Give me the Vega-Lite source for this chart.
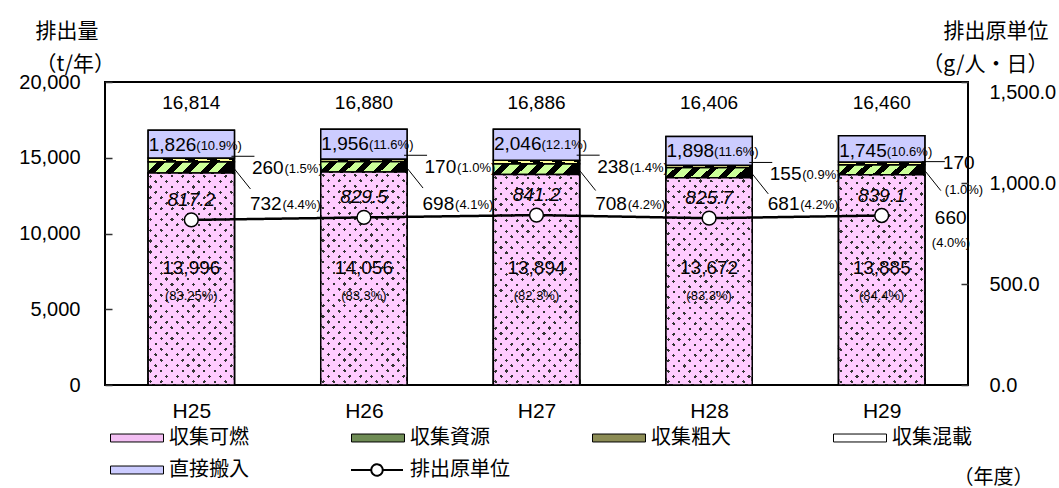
{
  "$schema": "https://vega.github.io/schema/vega-lite/v6.json",
  "width": 863,
  "height": 303,
  "autosize": {"type": "none"},
  "padding": {"left": 105, "top": 82, "right": 91, "bottom": 103},
  "background": "white",
  "config": {
    "view": {"stroke": "black", "strokeWidth": 2},
    "text": {"font": "Liberation Sans", "fontSize": 19, "color": "black", "baseline": "middle"},
    "axis": {"domain": false, "grid": false, "labelColor": "black", "titleColor": "black", "labelFontWeight": "normal"}
  },
  "datasets": {
    "seg": [
      {"year": "H25", "cat": "収集可燃", "value": 13996},
      {"year": "H25", "cat": "収集資源", "value": 732},
      {"year": "H25", "cat": "収集粗大", "value": 260},
      {"year": "H25", "cat": "収集混載", "value": 0},
      {"year": "H25", "cat": "直接搬入", "value": 1826},
      {"year": "H26", "cat": "収集可燃", "value": 14056},
      {"year": "H26", "cat": "収集資源", "value": 698},
      {"year": "H26", "cat": "収集粗大", "value": 170},
      {"year": "H26", "cat": "収集混載", "value": 0},
      {"year": "H26", "cat": "直接搬入", "value": 1956},
      {"year": "H27", "cat": "収集可燃", "value": 13894},
      {"year": "H27", "cat": "収集資源", "value": 708},
      {"year": "H27", "cat": "収集粗大", "value": 238},
      {"year": "H27", "cat": "収集混載", "value": 0},
      {"year": "H27", "cat": "直接搬入", "value": 2046},
      {"year": "H28", "cat": "収集可燃", "value": 13672},
      {"year": "H28", "cat": "収集資源", "value": 681},
      {"year": "H28", "cat": "収集粗大", "value": 155},
      {"year": "H28", "cat": "収集混載", "value": 0},
      {"year": "H28", "cat": "直接搬入", "value": 1898},
      {"year": "H29", "cat": "収集可燃", "value": 13885},
      {"year": "H29", "cat": "収集資源", "value": 660},
      {"year": "H29", "cat": "収集粗大", "value": 170},
      {"year": "H29", "cat": "収集混載", "value": 0},
      {"year": "H29", "cat": "直接搬入", "value": 1745}
    ],
    "years": [
      {"year": "H25", "kanen": 13996, "shigen": 732, "sodai": 260, "choku": 1826, "total": 16814, "rate": 817.2, "p_kanen": "(83.25%)", "p_shigen": "(4.4%)", "p_sodai": "(1.5%)", "p_choku": "(10.9%)"},
      {"year": "H26", "kanen": 14056, "shigen": 698, "sodai": 170, "choku": 1956, "total": 16880, "rate": 829.5, "p_kanen": "(83.3%)", "p_shigen": "(4.1%)", "p_sodai": "(1.0%)", "p_choku": "(11.6%)"},
      {"year": "H27", "kanen": 13894, "shigen": 708, "sodai": 238, "choku": 2046, "total": 16886, "rate": 841.2, "p_kanen": "(82.3%)", "p_shigen": "(4.2%)", "p_sodai": "(1.4%)", "p_choku": "(12.1%)"},
      {"year": "H28", "kanen": 13672, "shigen": 681, "sodai": 155, "choku": 1898, "total": 16406, "rate": 825.7, "p_kanen": "(83.3%)", "p_shigen": "(4.2%)", "p_sodai": "(0.9%)", "p_choku": "(11.6%)"},
      {"year": "H29", "kanen": 13885, "shigen": 660, "sodai": 170, "choku": 1745, "total": 16460, "rate": 839.1, "p_kanen": "(84.4%)", "p_shigen": "(4.0%)", "p_sodai": "(1.0%)", "p_choku": "(10.6%)"}
    ]
  },
  "resolve": {"scale": {"y": "independent"}},
  "layer": [
    {
      "data": {"name": "seg"},
      "mark": {"type": "bar", "stroke": "black", "strokeWidth": 1.5},
      "encoding": {
        "x": {
          "field": "year", "type": "nominal",
          "scale": {"paddingInner": 0.5, "paddingOuter": 0.25},
          "axis": {
            "title": "（年度）", "labelAngle": 0, "labelFont": "Liberation Sans", "labelFontSize": 21,
            "labelFontWeight": "normal", "offset": -6,
            "labelBaseline": "middle", "labelPadding": 26, "tickBand": "extent", "tickSize": 6,
            "tickColor": "#555555", "tickWidth": 1,
            "titleFont": "Noto Sans CJK JP", "titleFontSize": 20, "titleFontWeight": "normal",
            "titleX": 928, "titleY": 98, "titleAlign": "right", "titleBaseline": "middle"
          }
        },
        "y": {
          "field": "value", "type": "quantitative", "stack": "zero",
          "scale": {"domain": [0, 20000]},
          "axis": {
            "orient": "left", "values": [0, 5000, 10000, 15000, 20000], "format": ",.0f",
            "offset": -7, "tickSize": 7, "tickColor": "#333333", "tickWidth": 1.5,
            "labelFont": "Liberation Sans", "labelFontSize": 20, "labelPadding": 25,
            "title": ["排出量", "（t/年）"], "titleFont": "Noto Sans CJK JP", "titleFontSize": 21,
            "titleFontWeight": "normal", "titleAngle": 0, "titleAlign": "left", "titleBaseline": "top",
            "titleX": -77, "titleY": -62, "titleLineHeight": 33
          }
        },
        "color": {
          "field": "cat", "type": "nominal",
          "sort": ["収集可燃", "収集資源", "収集粗大", "収集混載", "直接搬入"],
          "scale": {
            "domain": ["収集可燃", "収集資源", "収集粗大", "収集混載", "直接搬入"],
            "range": ["#f3bff3", "#6f8c55", "#8c8c55", "#ffffff", "#ccccff"]
          },
          "legend": {
            "orient": "none", "legendX": 5, "legendY": 346, "direction": "horizontal", "columns": 4,
            "title": null, "padding": 0, "clipHeight": 20,
            "symbolType": "M-1,-0.15H1V0.15H-1Z", "symbolSize": 2809,
            "symbolStrokeColor": "black", "symbolStrokeWidth": 1,
            "labelFont": "Noto Sans CJK JP", "labelFontSize": 20, "labelColor": "black", "labelOffset": 5,
            "labelLimit": 300, "columnPadding": 102, "rowPadding": 12
          }
        }
      }
    },
    {
      "data": {"name": "seg"},
      "mark": {"type": "bar", "stroke": "black", "strokeWidth": 1.5},
      "encoding": {
        "x": {"field": "year", "type": "nominal"},
        "y": {"field": "value", "type": "quantitative", "stack": "zero", "scale": {"domain": [0, 20000]}, "axis": null},
        "color": {
          "field": "cat", "type": "nominal",
          "sort": ["収集可燃", "収集資源", "収集粗大", "収集混載", "直接搬入"],
          "scale": {
            "domain": ["収集可燃", "収集資源", "収集粗大", "収集混載", "直接搬入"],
            "range": ["#f3bff3", "#6f8c55", "#8c8c55", "#ffffff", "#ccccff"]
          },
          "legend": null
        },
        "fill": {
          "condition": [
            {"test": "datum.cat === '収集可燃'", "value": {"gradient": "linear", "x1": 0, "y1": 0, "x2": 0.501, "y2": 1.2234, "stops": [
                {"offset": 0, "color": "#ffccff"},
                {"offset": 0.013, "color": "#ffccff"}, {"offset": 0.013, "color": "#333333"}, {"offset": 0.024, "color": "#333333"}, {"offset": 0.024, "color": "#ffccff"},
                {"offset": 0.0487, "color": "#ffccff"}, {"offset": 0.0487, "color": "#333333"}, {"offset": 0.0597, "color": "#333333"}, {"offset": 0.0597, "color": "#ffccff"},
                {"offset": 0.0844, "color": "#ffccff"}, {"offset": 0.0844, "color": "#333333"}, {"offset": 0.0954, "color": "#333333"}, {"offset": 0.0954, "color": "#ffccff"},
                {"offset": 0.1201, "color": "#ffccff"}, {"offset": 0.1201, "color": "#333333"}, {"offset": 0.1311, "color": "#333333"}, {"offset": 0.1311, "color": "#ffccff"},
                {"offset": 0.1559, "color": "#ffccff"}, {"offset": 0.1559, "color": "#333333"}, {"offset": 0.1669, "color": "#333333"}, {"offset": 0.1669, "color": "#ffccff"},
                {"offset": 0.1916, "color": "#ffccff"}, {"offset": 0.1916, "color": "#333333"}, {"offset": 0.2026, "color": "#333333"}, {"offset": 0.2026, "color": "#ffccff"},
                {"offset": 0.2273, "color": "#ffccff"}, {"offset": 0.2273, "color": "#333333"}, {"offset": 0.2383, "color": "#333333"}, {"offset": 0.2383, "color": "#ffccff"},
                {"offset": 0.263, "color": "#ffccff"}, {"offset": 0.263, "color": "#333333"}, {"offset": 0.274, "color": "#333333"}, {"offset": 0.274, "color": "#ffccff"},
                {"offset": 0.2987, "color": "#ffccff"}, {"offset": 0.2987, "color": "#333333"}, {"offset": 0.3097, "color": "#333333"}, {"offset": 0.3097, "color": "#ffccff"},
                {"offset": 0.3344, "color": "#ffccff"}, {"offset": 0.3344, "color": "#333333"}, {"offset": 0.3454, "color": "#333333"}, {"offset": 0.3454, "color": "#ffccff"},
                {"offset": 0.3701, "color": "#ffccff"}, {"offset": 0.3701, "color": "#333333"}, {"offset": 0.3811, "color": "#333333"}, {"offset": 0.3811, "color": "#ffccff"},
                {"offset": 0.4059, "color": "#ffccff"}, {"offset": 0.4059, "color": "#333333"}, {"offset": 0.4169, "color": "#333333"}, {"offset": 0.4169, "color": "#ffccff"},
                {"offset": 0.4416, "color": "#ffccff"}, {"offset": 0.4416, "color": "#333333"}, {"offset": 0.4526, "color": "#333333"}, {"offset": 0.4526, "color": "#ffccff"},
                {"offset": 0.4773, "color": "#ffccff"}, {"offset": 0.4773, "color": "#333333"}, {"offset": 0.4883, "color": "#333333"}, {"offset": 0.4883, "color": "#ffccff"},
                {"offset": 0.513, "color": "#ffccff"}, {"offset": 0.513, "color": "#333333"}, {"offset": 0.524, "color": "#333333"}, {"offset": 0.524, "color": "#ffccff"},
                {"offset": 0.5487, "color": "#ffccff"}, {"offset": 0.5487, "color": "#333333"}, {"offset": 0.5597, "color": "#333333"}, {"offset": 0.5597, "color": "#ffccff"},
                {"offset": 0.5844, "color": "#ffccff"}, {"offset": 0.5844, "color": "#333333"}, {"offset": 0.5954, "color": "#333333"}, {"offset": 0.5954, "color": "#ffccff"},
                {"offset": 0.6201, "color": "#ffccff"}, {"offset": 0.6201, "color": "#333333"}, {"offset": 0.6311, "color": "#333333"}, {"offset": 0.6311, "color": "#ffccff"},
                {"offset": 0.6559, "color": "#ffccff"}, {"offset": 0.6559, "color": "#333333"}, {"offset": 0.6669, "color": "#333333"}, {"offset": 0.6669, "color": "#ffccff"},
                {"offset": 0.6916, "color": "#ffccff"}, {"offset": 0.6916, "color": "#333333"}, {"offset": 0.7026, "color": "#333333"}, {"offset": 0.7026, "color": "#ffccff"},
                {"offset": 0.7273, "color": "#ffccff"}, {"offset": 0.7273, "color": "#333333"}, {"offset": 0.7383, "color": "#333333"}, {"offset": 0.7383, "color": "#ffccff"},
                {"offset": 0.763, "color": "#ffccff"}, {"offset": 0.763, "color": "#333333"}, {"offset": 0.774, "color": "#333333"}, {"offset": 0.774, "color": "#ffccff"},
                {"offset": 0.7987, "color": "#ffccff"}, {"offset": 0.7987, "color": "#333333"}, {"offset": 0.8097, "color": "#333333"}, {"offset": 0.8097, "color": "#ffccff"},
                {"offset": 0.8344, "color": "#ffccff"}, {"offset": 0.8344, "color": "#333333"}, {"offset": 0.8454, "color": "#333333"}, {"offset": 0.8454, "color": "#ffccff"},
                {"offset": 0.8701, "color": "#ffccff"}, {"offset": 0.8701, "color": "#333333"}, {"offset": 0.8811, "color": "#333333"}, {"offset": 0.8811, "color": "#ffccff"},
                {"offset": 0.9059, "color": "#ffccff"}, {"offset": 0.9059, "color": "#333333"}, {"offset": 0.9169, "color": "#333333"}, {"offset": 0.9169, "color": "#ffccff"},
                {"offset": 0.9416, "color": "#ffccff"}, {"offset": 0.9416, "color": "#333333"}, {"offset": 0.9526, "color": "#333333"}, {"offset": 0.9526, "color": "#ffccff"},
                {"offset": 0.9773, "color": "#ffccff"}, {"offset": 0.9773, "color": "#333333"}, {"offset": 0.9883, "color": "#333333"}, {"offset": 0.9883, "color": "#ffccff"},
                {"offset": 1, "color": "#ffccff"}
              ]}},
            {"test": "datum.cat === '収集資源'", "value": {"gradient": "linear", "x1": 0, "y1": 0, "x2": 1, "y2": 0.128, "stops": [
                {"offset": 0, "color": "#ccff99"}, {"offset": 0.11, "color": "#ccff99"}, {"offset": 0.11, "color": "#000000"}, {"offset": 0.2, "color": "#000000"},
                {"offset": 0.2, "color": "#ccff99"}, {"offset": 0.31, "color": "#ccff99"}, {"offset": 0.31, "color": "#000000"}, {"offset": 0.4, "color": "#000000"},
                {"offset": 0.4, "color": "#ccff99"}, {"offset": 0.51, "color": "#ccff99"}, {"offset": 0.51, "color": "#000000"}, {"offset": 0.6, "color": "#000000"},
                {"offset": 0.6, "color": "#ccff99"}, {"offset": 0.71, "color": "#ccff99"}, {"offset": 0.71, "color": "#000000"}, {"offset": 0.8, "color": "#000000"},
                {"offset": 0.8, "color": "#ccff99"}, {"offset": 0.91, "color": "#ccff99"}, {"offset": 0.91, "color": "#000000"}, {"offset": 1, "color": "#000000"}
              ]}},
            {"test": "datum.cat === '収集粗大'", "value": {"gradient": "linear", "x1": 0, "y1": 0.128, "x2": 1, "y2": 0, "stops": [
                {"offset": 0, "color": "#ffff99"}, {"offset": 0.14, "color": "#ffff99"}, {"offset": 0.14, "color": "#000000"}, {"offset": 0.25, "color": "#000000"},
                {"offset": 0.25, "color": "#ffff99"}, {"offset": 0.39, "color": "#ffff99"}, {"offset": 0.39, "color": "#000000"}, {"offset": 0.5, "color": "#000000"},
                {"offset": 0.5, "color": "#ffff99"}, {"offset": 0.64, "color": "#ffff99"}, {"offset": 0.64, "color": "#000000"}, {"offset": 0.75, "color": "#000000"},
                {"offset": 0.75, "color": "#ffff99"}, {"offset": 0.89, "color": "#ffff99"}, {"offset": 0.89, "color": "#000000"}, {"offset": 1, "color": "#000000"}
              ]}}
          ],
          "value": "#ccccff"
        }
      }
    },
    {
      "data": {"name": "years"},
      "mark": {
        "type": "bar", "stroke": "black", "strokeWidth": 1.5,
        "fill": {"gradient": "linear", "x1": 0, "y1": 1, "x2": 0.501, "y2": -0.2234, "stops": [
          {"offset": 0, "color": "#ffccff"},
          {"offset": 0.013, "color": "#ffccff"}, {"offset": 0.013, "color": "rgba(255,204,255,0)"}, {"offset": 0.024, "color": "rgba(255,204,255,0)"}, {"offset": 0.024, "color": "#ffccff"},
          {"offset": 0.0487, "color": "#ffccff"}, {"offset": 0.0487, "color": "rgba(255,204,255,0)"}, {"offset": 0.0597, "color": "rgba(255,204,255,0)"}, {"offset": 0.0597, "color": "#ffccff"},
          {"offset": 0.0844, "color": "#ffccff"}, {"offset": 0.0844, "color": "rgba(255,204,255,0)"}, {"offset": 0.0954, "color": "rgba(255,204,255,0)"}, {"offset": 0.0954, "color": "#ffccff"},
          {"offset": 0.1201, "color": "#ffccff"}, {"offset": 0.1201, "color": "rgba(255,204,255,0)"}, {"offset": 0.1311, "color": "rgba(255,204,255,0)"}, {"offset": 0.1311, "color": "#ffccff"},
          {"offset": 0.1559, "color": "#ffccff"}, {"offset": 0.1559, "color": "rgba(255,204,255,0)"}, {"offset": 0.1669, "color": "rgba(255,204,255,0)"}, {"offset": 0.1669, "color": "#ffccff"},
          {"offset": 0.1916, "color": "#ffccff"}, {"offset": 0.1916, "color": "rgba(255,204,255,0)"}, {"offset": 0.2026, "color": "rgba(255,204,255,0)"}, {"offset": 0.2026, "color": "#ffccff"},
          {"offset": 0.2273, "color": "#ffccff"}, {"offset": 0.2273, "color": "rgba(255,204,255,0)"}, {"offset": 0.2383, "color": "rgba(255,204,255,0)"}, {"offset": 0.2383, "color": "#ffccff"},
          {"offset": 0.263, "color": "#ffccff"}, {"offset": 0.263, "color": "rgba(255,204,255,0)"}, {"offset": 0.274, "color": "rgba(255,204,255,0)"}, {"offset": 0.274, "color": "#ffccff"},
          {"offset": 0.2987, "color": "#ffccff"}, {"offset": 0.2987, "color": "rgba(255,204,255,0)"}, {"offset": 0.3097, "color": "rgba(255,204,255,0)"}, {"offset": 0.3097, "color": "#ffccff"},
          {"offset": 0.3344, "color": "#ffccff"}, {"offset": 0.3344, "color": "rgba(255,204,255,0)"}, {"offset": 0.3454, "color": "rgba(255,204,255,0)"}, {"offset": 0.3454, "color": "#ffccff"},
          {"offset": 0.3701, "color": "#ffccff"}, {"offset": 0.3701, "color": "rgba(255,204,255,0)"}, {"offset": 0.3811, "color": "rgba(255,204,255,0)"}, {"offset": 0.3811, "color": "#ffccff"},
          {"offset": 0.4059, "color": "#ffccff"}, {"offset": 0.4059, "color": "rgba(255,204,255,0)"}, {"offset": 0.4169, "color": "rgba(255,204,255,0)"}, {"offset": 0.4169, "color": "#ffccff"},
          {"offset": 0.4416, "color": "#ffccff"}, {"offset": 0.4416, "color": "rgba(255,204,255,0)"}, {"offset": 0.4526, "color": "rgba(255,204,255,0)"}, {"offset": 0.4526, "color": "#ffccff"},
          {"offset": 0.4773, "color": "#ffccff"}, {"offset": 0.4773, "color": "rgba(255,204,255,0)"}, {"offset": 0.4883, "color": "rgba(255,204,255,0)"}, {"offset": 0.4883, "color": "#ffccff"},
          {"offset": 0.513, "color": "#ffccff"}, {"offset": 0.513, "color": "rgba(255,204,255,0)"}, {"offset": 0.524, "color": "rgba(255,204,255,0)"}, {"offset": 0.524, "color": "#ffccff"},
          {"offset": 0.5487, "color": "#ffccff"}, {"offset": 0.5487, "color": "rgba(255,204,255,0)"}, {"offset": 0.5597, "color": "rgba(255,204,255,0)"}, {"offset": 0.5597, "color": "#ffccff"},
          {"offset": 0.5844, "color": "#ffccff"}, {"offset": 0.5844, "color": "rgba(255,204,255,0)"}, {"offset": 0.5954, "color": "rgba(255,204,255,0)"}, {"offset": 0.5954, "color": "#ffccff"},
          {"offset": 0.6201, "color": "#ffccff"}, {"offset": 0.6201, "color": "rgba(255,204,255,0)"}, {"offset": 0.6311, "color": "rgba(255,204,255,0)"}, {"offset": 0.6311, "color": "#ffccff"},
          {"offset": 0.6559, "color": "#ffccff"}, {"offset": 0.6559, "color": "rgba(255,204,255,0)"}, {"offset": 0.6669, "color": "rgba(255,204,255,0)"}, {"offset": 0.6669, "color": "#ffccff"},
          {"offset": 0.6916, "color": "#ffccff"}, {"offset": 0.6916, "color": "rgba(255,204,255,0)"}, {"offset": 0.7026, "color": "rgba(255,204,255,0)"}, {"offset": 0.7026, "color": "#ffccff"},
          {"offset": 0.7273, "color": "#ffccff"}, {"offset": 0.7273, "color": "rgba(255,204,255,0)"}, {"offset": 0.7383, "color": "rgba(255,204,255,0)"}, {"offset": 0.7383, "color": "#ffccff"},
          {"offset": 0.763, "color": "#ffccff"}, {"offset": 0.763, "color": "rgba(255,204,255,0)"}, {"offset": 0.774, "color": "rgba(255,204,255,0)"}, {"offset": 0.774, "color": "#ffccff"},
          {"offset": 0.7987, "color": "#ffccff"}, {"offset": 0.7987, "color": "rgba(255,204,255,0)"}, {"offset": 0.8097, "color": "rgba(255,204,255,0)"}, {"offset": 0.8097, "color": "#ffccff"},
          {"offset": 0.8344, "color": "#ffccff"}, {"offset": 0.8344, "color": "rgba(255,204,255,0)"}, {"offset": 0.8454, "color": "rgba(255,204,255,0)"}, {"offset": 0.8454, "color": "#ffccff"},
          {"offset": 0.8701, "color": "#ffccff"}, {"offset": 0.8701, "color": "rgba(255,204,255,0)"}, {"offset": 0.8811, "color": "rgba(255,204,255,0)"}, {"offset": 0.8811, "color": "#ffccff"},
          {"offset": 0.9059, "color": "#ffccff"}, {"offset": 0.9059, "color": "rgba(255,204,255,0)"}, {"offset": 0.9169, "color": "rgba(255,204,255,0)"}, {"offset": 0.9169, "color": "#ffccff"},
          {"offset": 0.9416, "color": "#ffccff"}, {"offset": 0.9416, "color": "rgba(255,204,255,0)"}, {"offset": 0.9526, "color": "rgba(255,204,255,0)"}, {"offset": 0.9526, "color": "#ffccff"},
          {"offset": 0.9773, "color": "#ffccff"}, {"offset": 0.9773, "color": "rgba(255,204,255,0)"}, {"offset": 0.9883, "color": "rgba(255,204,255,0)"}, {"offset": 0.9883, "color": "#ffccff"},
          {"offset": 1, "color": "#ffccff"}
        ]}
      },
      "encoding": {
        "x": {"field": "year", "type": "nominal"},
        "y": {"field": "kanen", "type": "quantitative", "scale": {"domain": [0, 20000]}, "axis": null}
      }
    },
    {
      "data": {"name": "years"},
      "mark": {"type": "rule", "color": "black", "strokeWidth": 1, "xOffset": -3, "x2Offset": 20, "yOffset": 26},
      "encoding": {
        "x": {"field": "year", "type": "nominal", "bandPosition": 1},
        "x2": {"field": "year", "bandPosition": 1},
        "y": {"field": "total", "type": "quantitative", "scale": {"domain": [0, 20000]}, "axis": null}
      }
    },
    {
      "data": {"name": "years"},
      "mark": {"type": "rule", "color": "black", "strokeWidth": 1, "xOffset": 0, "x2Offset": 16, "yOffset": -4, "y2Offset": 16},
      "encoding": {
        "x": {"field": "year", "type": "nominal", "bandPosition": 1},
        "x2": {"field": "year", "bandPosition": 1},
        "y": {"field": "kanen", "type": "quantitative", "scale": {"domain": [0, 20000]}, "axis": null},
        "y2": {"field": "kanen"}
      }
    },
    {
      "data": {"name": "years"},
      "mark": {"type": "line", "color": "black", "strokeWidth": 2.5},
      "encoding": {
        "x": {"field": "year", "type": "nominal"},
        "y": {
          "field": "rate", "type": "quantitative", "scale": {"domain": [0, 1500]},
          "axis": {
            "orient": "right", "values": [0, 500, 1000, 1500], "format": ",.1f",
            "offset": -7, "tickSize": 7, "tickColor": "#333333", "tickWidth": 1.5,
            "labelFont": "Liberation Sans", "labelFontSize": 20, "labelPadding": 21,
            "labelBaseline": {"condition": {"test": "datum.value === 1500", "value": "top"}, "value": "middle"},
            "title": ["排出原単位", "（g/人・日）"], "titleFont": "Noto Sans CJK JP", "titleFontSize": 21,
            "titleFontWeight": "normal", "titleAngle": 0, "titleAlign": "right", "titleBaseline": "top",
            "titleX": 87, "titleY": -62, "titleLineHeight": 33
          }
        },
        "strokeDash": {
          "datum": "排出原単位", "type": "nominal", "scale": {"range": [[1, 0]]},
          "legend": {
            "orient": "none", "legendX": 245, "legendY": 378, "title": null, "padding": 0, "clipHeight": 20,
            "symbolType": "M-1,0H-0.22M0.22,0H1M0.22,0A0.22,0.22,0,1,1,-0.22,0A0.22,0.22,0,1,1,0.22,0",
            "symbolSize": 2704, "symbolStrokeColor": "black", "symbolFillColor": "white", "symbolStrokeWidth": 2,
            "labelFont": "Noto Sans CJK JP", "labelFontSize": 20, "labelColor": "black", "labelOffset": 6, "labelLimit": 300
          }
        }
      }
    },
    {
      "data": {"name": "years"},
      "mark": {"type": "point", "filled": true, "fill": "white", "stroke": "black", "strokeWidth": 1.5, "size": 190, "opacity": 1},
      "encoding": {
        "x": {"field": "year", "type": "nominal"},
        "y": {"field": "rate", "type": "quantitative", "scale": {"domain": [0, 1500]}, "axis": null}
      }
    },
    {
      "data": {"name": "years"},
      "mark": {"type": "text", "fontStyle": "italic", "dy": -20},
      "encoding": {
        "x": {"field": "year", "type": "nominal"},
        "y": {"field": "rate", "type": "quantitative", "scale": {"domain": [0, 1500]}, "axis": null},
        "text": {"field": "rate", "type": "quantitative", "format": ".1f"}
      }
    },
    {
      "data": {"name": "years"},
      "mark": {"type": "text"},
      "encoding": {
        "x": {"field": "year", "type": "nominal"},
        "y": {"datum": 18600, "type": "quantitative", "scale": {"domain": [0, 20000]}, "axis": null},
        "text": {"field": "total", "type": "quantitative", "format": ","}
      }
    },
    {
      "data": {"name": "years"},
      "mark": {"type": "text", "align": "right", "dx": 5, "dy": 15},
      "encoding": {
        "x": {"field": "year", "type": "nominal"},
        "y": {"field": "total", "type": "quantitative", "scale": {"domain": [0, 20000]}, "axis": null},
        "text": {"field": "choku", "type": "quantitative", "format": ","}
      }
    },
    {
      "data": {"name": "years"},
      "mark": {"type": "text", "align": "left", "dx": 5, "dy": 16, "fontSize": 13},
      "encoding": {
        "x": {"field": "year", "type": "nominal"},
        "y": {"field": "total", "type": "quantitative", "scale": {"domain": [0, 20000]}, "axis": null},
        "text": {"field": "p_choku", "type": "nominal"}
      }
    },
    {
      "data": {"name": "years"},
      "mark": {"type": "text"},
      "encoding": {
        "x": {"field": "year", "type": "nominal"},
        "y": {"datum": 7700, "type": "quantitative", "scale": {"domain": [0, 20000]}, "axis": null},
        "text": {"field": "kanen", "type": "quantitative", "format": ","}
      }
    },
    {
      "data": {"name": "years"},
      "mark": {"type": "text", "fontSize": 13},
      "encoding": {
        "x": {"field": "year", "type": "nominal"},
        "y": {"datum": 5850, "type": "quantitative", "scale": {"domain": [0, 20000]}, "axis": null},
        "text": {"field": "p_kanen", "type": "nominal"}
      }
    },
    {
      "data": {"name": "years"},
      "transform": [{"filter": "datum.year != 'H29'"}],
      "mark": {"type": "text", "align": "left", "dx": 17.5, "dy": 38},
      "encoding": {
        "x": {"field": "year", "type": "nominal", "bandPosition": 1},
        "y": {"field": "total", "type": "quantitative", "scale": {"domain": [0, 20000]}, "axis": null},
        "text": {"field": "sodai", "type": "quantitative", "format": ","}
      }
    },
    {
      "data": {"name": "years"},
      "transform": [{"filter": "datum.year != 'H29'"}],
      "mark": {"type": "text", "align": "left", "dx": 50, "dy": 39, "fontSize": 13},
      "encoding": {
        "x": {"field": "year", "type": "nominal", "bandPosition": 1},
        "y": {"field": "total", "type": "quantitative", "scale": {"domain": [0, 20000]}, "axis": null},
        "text": {"field": "p_sodai", "type": "nominal"}
      }
    },
    {
      "data": {"name": "years"},
      "transform": [{"filter": "datum.year != 'H29'"}],
      "mark": {"type": "text", "align": "left", "dx": 15.5},
      "encoding": {
        "x": {"field": "year", "type": "nominal", "bandPosition": 1},
        "y": {"datum": 11950, "type": "quantitative", "scale": {"domain": [0, 20000]}, "axis": null},
        "text": {"field": "shigen", "type": "quantitative", "format": ","}
      }
    },
    {
      "data": {"name": "years"},
      "transform": [{"filter": "datum.year != 'H29'"}],
      "mark": {"type": "text", "align": "left", "dx": 48, "dy": 1, "fontSize": 13},
      "encoding": {
        "x": {"field": "year", "type": "nominal", "bandPosition": 1},
        "y": {"datum": 11950, "type": "quantitative", "scale": {"domain": [0, 20000]}, "axis": null},
        "text": {"field": "p_shigen", "type": "nominal"}
      }
    },
    {
      "data": {"name": "years"},
      "transform": [{"filter": "datum.year == 'H29'"}],
      "mark": {"type": "text", "align": "left", "dx": 18},
      "encoding": {
        "x": {"field": "year", "type": "nominal", "bandPosition": 1},
        "y": {"datum": 14653, "type": "quantitative", "scale": {"domain": [0, 20000]}, "axis": null},
        "text": {"field": "sodai", "type": "quantitative", "format": ","}
      }
    },
    {
      "data": {"name": "years"},
      "transform": [{"filter": "datum.year == 'H29'"}],
      "mark": {"type": "text", "align": "left", "dx": 20, "fontSize": 13},
      "encoding": {
        "x": {"field": "year", "type": "nominal", "bandPosition": 1},
        "y": {"datum": 12871, "type": "quantitative", "scale": {"domain": [0, 20000]}, "axis": null},
        "text": {"field": "p_sodai", "type": "nominal"}
      }
    },
    {
      "data": {"name": "years"},
      "transform": [{"filter": "datum.year == 'H29'"}],
      "mark": {"type": "text", "align": "left", "dx": 10},
      "encoding": {
        "x": {"field": "year", "type": "nominal", "bandPosition": 1},
        "y": {"datum": 11023, "type": "quantitative", "scale": {"domain": [0, 20000]}, "axis": null},
        "text": {"field": "shigen", "type": "quantitative", "format": ","}
      }
    },
    {
      "data": {"name": "years"},
      "transform": [{"filter": "datum.year == 'H29'"}],
      "mark": {"type": "text", "align": "left", "dx": 7, "fontSize": 13},
      "encoding": {
        "x": {"field": "year", "type": "nominal", "bandPosition": 1},
        "y": {"datum": 9373, "type": "quantitative", "scale": {"domain": [0, 20000]}, "axis": null},
        "text": {"field": "p_shigen", "type": "nominal"}
      }
    }
  ]
}
